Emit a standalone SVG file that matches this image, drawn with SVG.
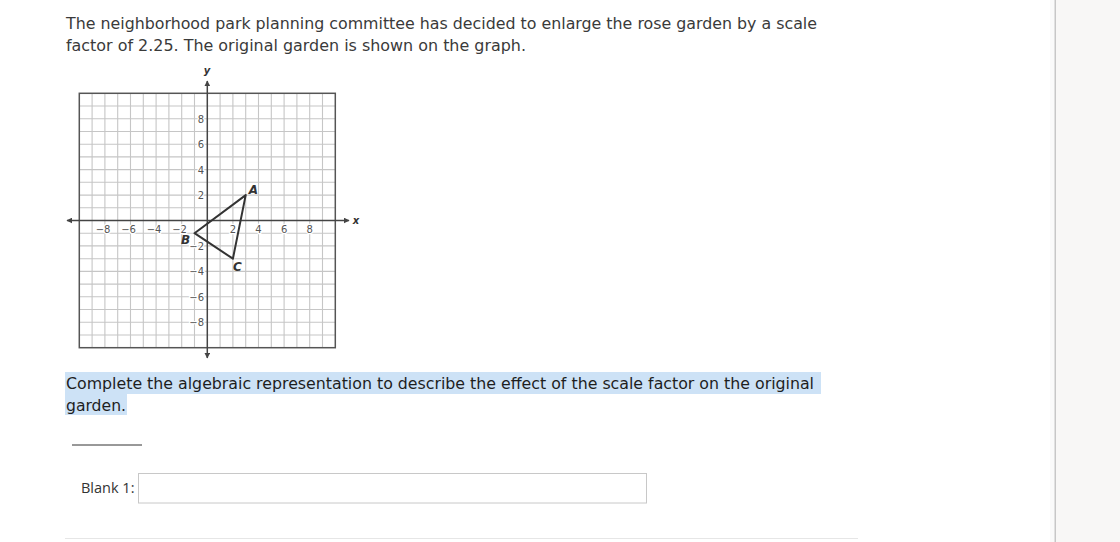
<svg xmlns="http://www.w3.org/2000/svg" width="1120" height="542" viewBox="0 0 1120 542">
<style>
.p1{font-family:"DejaVu Sans",Verdana,sans-serif;font-size:16px;fill:#3a3a3a}
.p2{font-family:"DejaVu Sans",Verdana,sans-serif;font-size:16px;fill:#1e1e1e}
.tk{font-family:"DejaVu Sans",Verdana,sans-serif;font-size:10px;fill:#555;stroke:#fff;stroke-width:2.5px;paint-order:stroke}
.ax{font-family:"DejaVu Sans",Verdana,sans-serif;font-size:10px;font-style:italic;font-weight:bold;fill:#333}
.pt{font-family:"DejaVu Sans",Verdana,sans-serif;font-size:12px;font-style:italic;font-weight:bold;fill:#333}
.lbl{font-family:"Open Sans","DejaVu Sans",sans-serif;font-size:14.5px;fill:#333}
</style>
<defs>
<marker id="ah" viewBox="0 0 10 10" refX="9" refY="5" markerWidth="6" markerHeight="6" orient="auto-start-reverse" markerUnits="userSpaceOnUse">
<path d="M0,0 L10,5 L0,10 z" fill="#444"/>
</marker>
</defs>
<rect x="0" y="0" width="1120" height="542" fill="#fff"/>
<rect x="1056" y="0" width="64" height="542" fill="#f8f7f6"/>
<rect x="1050" y="0" width="4" height="542" fill="#fafafa"/>
<line x1="1055.2" y1="0" x2="1055.2" y2="542" stroke="#bdbdbd" stroke-width="1.3"/>

<g id="question">
<text class="p1" x="66" y="29" textLength="751" lengthAdjust="spacingAndGlyphs">The neighborhood park planning committee has decided to enlarge the rose garden by a scale</text>
<text class="p1" x="66" y="51" textLength="460" lengthAdjust="spacingAndGlyphs">factor of 2.25. The original garden is shown on the graph.</text>
</g>

<g id="graph">
<path fill="none" stroke="#c6c6c6" stroke-width="1.1" d="M92.1,93.3V347.7M104.9,93.3V347.7M117.7,93.3V347.7M130.5,93.3V347.7M143.3,93.3V347.7M156.1,93.3V347.7M168.9,93.3V347.7M181.7,93.3V347.7M194.5,93.3V347.7M220.1,93.3V347.7M232.9,93.3V347.7M245.7,93.3V347.7M258.5,93.3V347.7M271.3,93.3V347.7M284.1,93.3V347.7M296.9,93.3V347.7M309.7,93.3V347.7M322.5,93.3V347.7M79.3,106H335.3M79.3,118.7H335.3M79.3,131.5H335.3M79.3,144.2H335.3M79.3,156.9H335.3M79.3,169.6H335.3M79.3,182.3H335.3M79.3,195.1H335.3M79.3,207.8H335.3M79.3,233.2H335.3M79.3,245.9H335.3M79.3,258.7H335.3M79.3,271.4H335.3M79.3,284.1H335.3M79.3,296.8H335.3M79.3,309.5H335.3M79.3,322.3H335.3M79.3,335H335.3"/>
<rect x="79.3" y="93.3" width="256" height="254.4" fill="none" stroke="#555" stroke-width="1.5"/>
<g id="axes">
<line x1="67" y1="220.5" x2="349" y2="220.5" stroke="#444" stroke-width="1.5" marker-start="url(#ah)" marker-end="url(#ah)"/>
<line x1="207.3" y1="81" x2="207.3" y2="358" stroke="#444" stroke-width="1.5" marker-start="url(#ah)" marker-end="url(#ah)"/>
</g>
<text class="ax" x="356" y="224" text-anchor="middle">x</text>
<text class="ax" x="207" y="74" text-anchor="middle">y</text>
<g text-anchor="middle">
<text class="tk" x="103" y="232.5">−8</text>
<text class="tk" x="128.5" y="232.5">−6</text>
<text class="tk" x="154" y="232.5">−4</text>
<text class="tk" x="179.5" y="232.5">−2</text>
<text class="tk" x="232.9" y="232.5">2</text>
<text class="tk" x="258.5" y="232.5">4</text>
<text class="tk" x="284.1" y="232.5">6</text>
<text class="tk" x="309.7" y="232.5">8</text>
</g>
<g text-anchor="end">
<text class="tk" x="204" y="122.6">8</text>
<text class="tk" x="204" y="148.1">6</text>
<text class="tk" x="204" y="173.5">4</text>
<text class="tk" x="204" y="199">2</text>
<text class="tk" x="204" y="249.8">−2</text>
<text class="tk" x="204" y="275.3">−4</text>
<text class="tk" x="204" y="300.7">−6</text>
<text class="tk" x="204" y="326.2">−8</text>
</g>
<g id="garden">
<polygon points="245.7,195.1 194.5,233.2 232.9,258.7" fill="none" stroke="#333" stroke-width="2" stroke-linejoin="round"/>
<text class="pt" x="253.5" y="193.5" text-anchor="middle">A</text>
<text class="pt" x="185.5" y="243.5" text-anchor="middle">B</text>
<text class="pt" x="237.5" y="270.5" text-anchor="middle">C</text>
</g>
</g>

<g id="prompt">
<rect x="65" y="372" width="756" height="22" fill="#cde2f6"/>
<rect x="65" y="394" width="62" height="21" fill="#cde2f6"/>
<text class="p2" x="66" y="389" textLength="748" lengthAdjust="spacingAndGlyphs">Complete the algebraic representation to describe the effect of the scale factor on the original</text>
<text class="p2" x="66" y="411" textLength="60" lengthAdjust="spacingAndGlyphs">garden.</text>
</g>

<line x1="72" y1="445" x2="142" y2="445" stroke="#333" stroke-width="1"/>

<g id="blank1">
<text class="lbl" x="81" y="493">Blank 1:</text>
<rect x="138.5" y="473.5" width="508" height="29.5" fill="#fff" stroke="#c8c8c8" stroke-width="1"/>
</g>

<line x1="65" y1="538.5" x2="858" y2="538.5" stroke="#e6e6e6" stroke-width="1"/>
</svg>
